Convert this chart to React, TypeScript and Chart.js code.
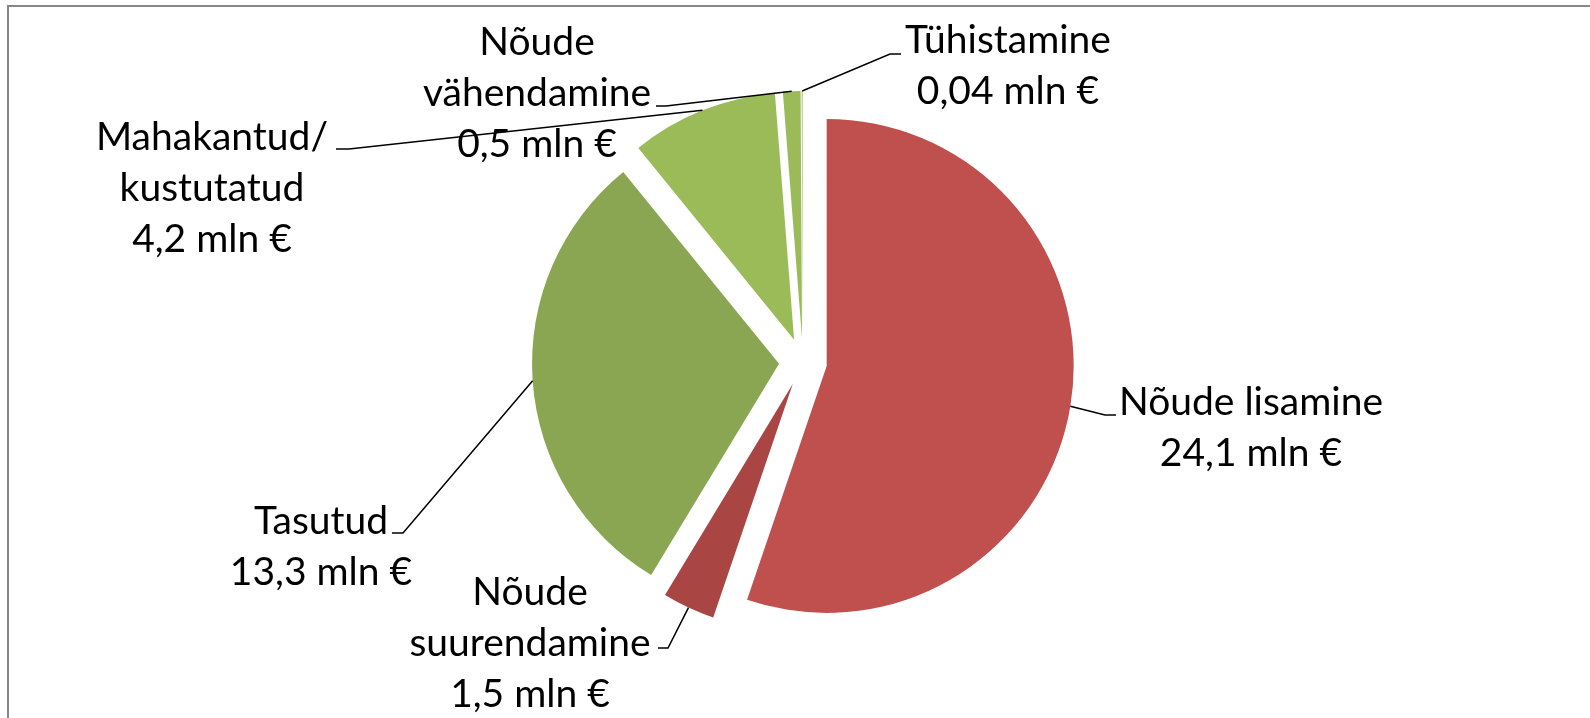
import React, { useEffect, useRef } from "react";
import { Chart, registerables } from "chart.js";

Chart.register(...registerables);

const categories = [
  "Nõude lisamine",
  "Nõude suurendamine",
  "Tasutud",
  "Mahakantud/kustutatud",
  "Nõude vähendamine",
  "Tühistamine",
];
const values = [24.1, 1.5, 13.3, 4.2, 0.5, 0.04];
const valueLabels = ["24,1 mln €", "1,5 mln €", "13,3 mln €", "4,2 mln €", "0,5 mln €", "0,04 mln €"];
const nameLines = [
  ["Nõude lisamine"],
  ["Nõude", "suurendamine"],
  ["Tasutud"],
  ["Mahakantud/", "kustutatud"],
  ["Nõude", "vähendamine"],
  ["Tühistamine"],
];
const colors = ["#C0504D", "#A94644", "#8AA652", "#9BBB59", "#9BBB59", "#BFD494"];

// distance each slice is pulled out from the centre
const EXPLODE = 24;

// label layout: text center x, first baseline y, elbow point, line end x
const labelLayout = [
  { cx: 1251, by: 415, ex: 1105, ey: 415, endX: 1116 },
  { cx: 530, by: 605, ex: 668, ey: 648, endX: 658 },
  { cx: 321, by: 534, ex: 403, ey: 533, endX: 392 },
  { cx: 212, by: 150, ex: 349, ey: 149, endX: 336 },
  { cx: 537, by: 55, ex: 666, ey: 106, endX: 656 },
  { cx: 1008, by: 53, ex: 890, ey: 54, endX: 901 },
];

const FONT = "39px Lato";
const LINE_H = 51;

const explodePlugin = {
  id: "explodeSlices",
  beforeDatasetDraw(chart: any, args: any) {
    const ctx = chart.ctx;
    const meta = args.meta;
    meta.data.forEach((arc: any) => {
      const p = arc.getProps(["startAngle", "endAngle"], true);
      const mid = (p.startAngle + p.endAngle) / 2;
      ctx.save();
      ctx.translate(Math.cos(mid) * EXPLODE, Math.sin(mid) * EXPLODE);
      arc.draw(ctx, chart.chartArea);
      ctx.restore();
    });
    return false;
  },
};

const labelPlugin = {
  id: "leaderLabels",
  afterDatasetsDraw(chart: any) {
    const ctx = chart.ctx;
    const meta = chart.getDatasetMeta(0);
    ctx.save();
    meta.data.forEach((arc: any, i: number) => {
      const p = arc.getProps(["x", "y", "startAngle", "endAngle", "outerRadius"], true);
      const mid = (p.startAngle + p.endAngle) / 2;
      const ax = p.x + Math.cos(mid) * (p.outerRadius + EXPLODE);
      const ay = p.y + Math.sin(mid) * (p.outerRadius + EXPLODE);
      const L = labelLayout[i];
      ctx.beginPath();
      ctx.strokeStyle = "#000";
      ctx.lineWidth = 1.5;
      ctx.moveTo(ax, ay);
      ctx.lineTo(L.ex, L.ey);
      ctx.lineTo(L.endX, L.ey);
      ctx.stroke();
      ctx.fillStyle = "#000";
      ctx.font = FONT;
      ctx.textAlign = "center";
      ctx.textBaseline = "alphabetic";
      const lines = [...nameLines[i], valueLabels[i]];
      lines.forEach((t, k) => ctx.fillText(t, L.cx, L.by + k * LINE_H));
    });
    ctx.restore();
  },
};

export default function App() {
  const ref = useRef<HTMLCanvasElement | null>(null);
  useEffect(() => {
    if (!ref.current) return;
    const chart = new Chart(ref.current, {
      type: "pie",
      data: {
        labels: categories,
        datasets: [
          {
            data: values,
            backgroundColor: colors,
            borderWidth: 0,
            offset: 0,
          },
        ],
      },
      options: {
        responsive: false,
        animation: false,
        radius: 247,
        layout: { padding: { left: 16, top: 6, right: 0, bottom: 0 } },
        plugins: {
          legend: { display: false },
          tooltip: { enabled: false },
          title: { display: false },
        },
      } as any,
      plugins: [explodePlugin, labelPlugin],
    });
    return () => chart.destroy();
  }, []);
  return (
    <div style={{ position: "fixed", left: 0, top: 0, width: 1590, height: 718, background: "#fff", overflow: "hidden" }}>
      <div
        style={{
          position: "absolute",
          left: 7,
          top: 5,
          width: 1700,
          height: 800,
          border: "2px solid #878787",
          boxSizing: "border-box",
        }}
      />
      <canvas ref={ref} width={1590} height={718} style={{ position: "absolute", left: 0, top: 0, width: 1590, height: 718 }} />
    </div>
  );
}
